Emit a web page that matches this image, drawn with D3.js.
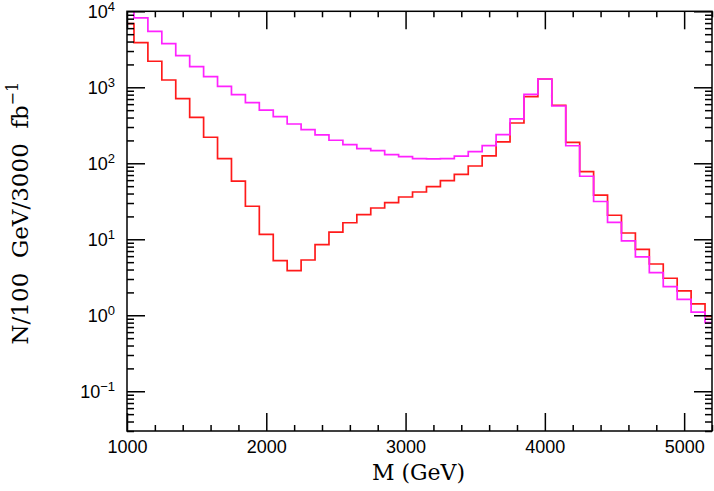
<!DOCTYPE html>
<html>
<head>
<meta charset="utf-8">
<script src="https://cdn.jsdelivr.net/npm/d3@7"></script>
<style>
  html, body { margin: 0; padding: 0; background: #fff; }
  svg { display: block; }
  .tick text { font-family: "Liberation Sans", Arial, sans-serif; }
</style>
</head>
<body>
<svg id="chart" width="714" height="491"></svg>
<script>
// Bin centres (GeV), 100 GeV wide bins
const binCenters = [1000,1100,1200,1300,1400,1500,1600,1700,1800,1900,
                    2000,2100,2200,2300,2400,2500,2600,2700,2800,2900,
                    3000,3100,3200,3300,3400,3500,3600,3700,3800,3900,
                    4000,4100,4200,4300,4400,4500,4600,4700,4800,4900,
                    5000,5100,5200];
// Magenta histogram (N / 100 GeV / 3000 fb^-1)
const magentaValues = [15000,8170,5450,3750,2605,1867,1378,1031,800,627,
                       502,410,329,277,236,201,176,156,147,130,
                       122,115,114,115,124,142,171,238,383,809,
                       1286,567,170,67.5,31.4,16.7,9.5,5.85,3.64,2.38,
                       1.62,1.10,0.80];
// Red histogram
const redValues = [6870,3860,2200,1247,708,403,220,115,58.1,27.2,
                   11.6,5.23,3.86,5.34,8.50,12.4,16.5,21.1,25.8,30.3,
                   36.0,41.9,49.2,59.0,71.6,92.1,125,191,339,752,
                   1286,580,189,77.5,38.0,20.7,12.1,7.38,4.73,3.07,
                   2.09,1.41,0.97];
const binWidth = 100;
const xMajorTicks = [1000,2000,3000,4000,5000];
const xMinorTicks = [1200,1400,1600,1800,2200,2400,2600,2800,3200,3400,3600,3800,4200,4400,4600,4800,5200];
const yMajorExponents = [-1,0,1,2,3,4];
const xDomain = [1000, 5200];
const yDomain = [0.03, 1e4];

const svg = d3.select("#chart");
const L = 127, R = 712, T = 11.3, B = 431;

const x = d3.scaleLinear().domain(xDomain).range([L, R]);
const y = d3.scaleLog().domain(yDomain).range([B, T]);

const yMajor = yMajorExponents.map(e => Math.pow(10, e));
const yMinor = [];
for (let e = -2; e <= 3; e++) for (let m = 2; m <= 9; m++) {
  const v = m * Math.pow(10, e);
  if (v >= yDomain[0] && v <= yDomain[1]) yMinor.push(v);
}

// clip
svg.append("defs").append("clipPath").attr("id", "clip")
  .append("rect").attr("x", L).attr("y", T).attr("width", R - L).attr("height", B - T);

function stepPoints(vals) {
  const pts = [];
  binCenters.forEach((c, i) => {
    const a = Math.max(c - binWidth / 2, xDomain[0]);
    const b = Math.min(c + binWidth / 2, xDomain[1]);
    pts.push([a, vals[i]], [b, vals[i]]);
  });
  return pts;
}
const line = d3.line().x(d => x(d[0])).y(d => y(d[1]));

const g = svg.append("g").attr("clip-path", "url(#clip)");
g.append("path").attr("d", line(stepPoints(redValues)))
  .attr("fill", "none").attr("stroke", "#ff1a1a").attr("stroke-width", 1.7);
g.append("path").attr("d", line(stepPoints(magentaValues)))
  .attr("fill", "none").attr("stroke", "#ff22ff").attr("stroke-width", 1.7);

// axes
function styleAxis(sel) {
  sel.select(".domain").remove();
  sel.selectAll(".tick line").attr("stroke", "#000").attr("stroke-width", 1.5);
}
// bottom
svg.append("g").attr("transform", `translate(0,${B})`)
  .call(d3.axisBottom(x).tickValues(xMinorTicks).tickSize(-6).tickFormat(""))
  .call(styleAxis);
const bx = svg.append("g").attr("transform", `translate(0,${B})`)
  .call(d3.axisBottom(x).tickValues(xMajorTicks).tickSize(-18).tickPadding(22).tickFormat(d3.format("d")))
  .call(styleAxis);
bx.selectAll(".tick text").attr("font-size", 18).attr("fill", "#000").attr("dy", "0em");
// top
svg.append("g").attr("transform", `translate(0,${T})`)
  .call(d3.axisTop(x).tickValues(xMinorTicks).tickSize(-6).tickFormat(""))
  .call(styleAxis);
svg.append("g").attr("transform", `translate(0,${T})`)
  .call(d3.axisTop(x).tickValues(xMajorTicks).tickSize(-18).tickFormat(""))
  .call(styleAxis);
// left
svg.append("g").attr("transform", `translate(${L},0)`)
  .call(d3.axisLeft(y).tickValues(yMinor).tickSize(-7).tickFormat(""))
  .call(styleAxis);
const ly = svg.append("g").attr("transform", `translate(${L},0)`)
  .call(d3.axisLeft(y).tickValues(yMajor).tickSize(-18).tickPadding(12).tickFormat(""))
  .call(styleAxis);
ly.selectAll(".tick text").each(function(d) {
  const t = d3.select(this);
  const e = Math.round(Math.log10(d));
  t.text(null).attr("font-size", 18).attr("fill", "#000").attr("dy", "0.35em").attr("text-anchor", "end");
  t.append("tspan").text("10");
  t.append("tspan").attr("font-size", 13).attr("dy", "-0.55em")
    .text(e < 0 ? "\u2212" + Math.abs(e) : String(e));
});
// right
svg.append("g").attr("transform", `translate(${R},0)`)
  .call(d3.axisRight(y).tickValues(yMinor).tickSize(-7).tickFormat(""))
  .call(styleAxis);
svg.append("g").attr("transform", `translate(${R},0)`)
  .call(d3.axisRight(y).tickValues(yMajor).tickSize(-18).tickFormat(""))
  .call(styleAxis);

// frame
svg.append("rect").attr("x", L).attr("y", T).attr("width", R - L).attr("height", B - T)
  .attr("fill", "none").attr("stroke", "#000").attr("stroke-width", 1.5);

// axis titles
svg.append("text")
  .attr("x", (L + R) / 2 - 1).attr("y", 480)
  .attr("text-anchor", "middle")
  .attr("font-family", "'DejaVu Serif', serif").attr("font-size", 22)
  .attr("fill", "#000")
  .text("M (GeV)");

const yt = svg.append("text")
  .attr("transform", `translate(28,${(T + B) / 2 - 8}) rotate(-90)`)
  .attr("text-anchor", "middle")
  .attr("font-family", "'DejaVu Serif', serif").attr("font-size", 23)
  .attr("fill", "#000")
  .style("white-space", "pre");
yt.append("tspan").text("N/100  GeV/3000  fb");
yt.append("tspan").attr("font-size", 16).attr("dy", "-0.6em").text("\u22121");
</script>
</body>
</html>
